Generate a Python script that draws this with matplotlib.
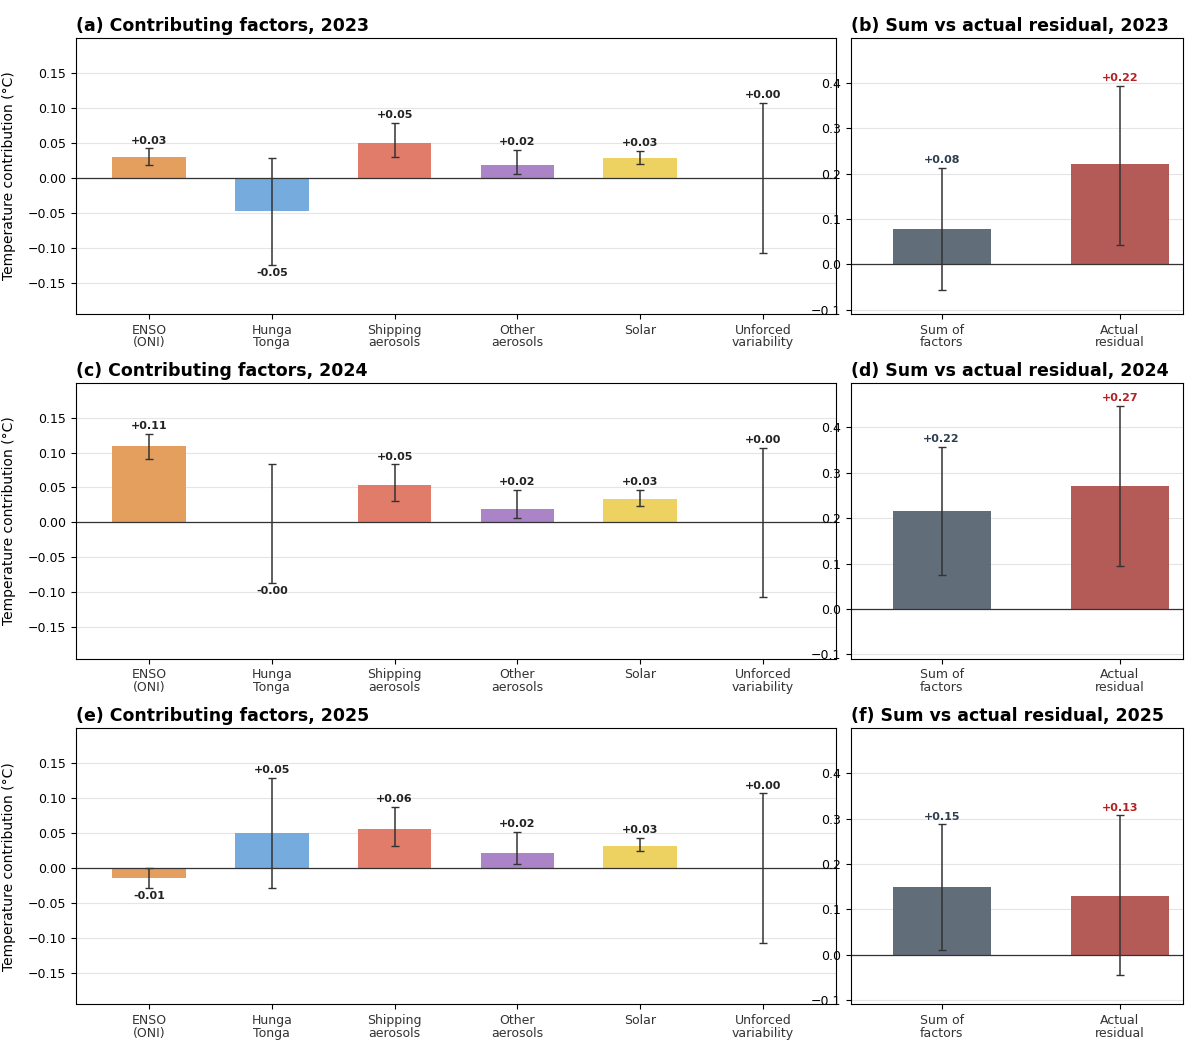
import matplotlib
matplotlib.use("Agg")
import matplotlib.pyplot as plt
import numpy as np

YEARS = [2023, 2024, 2025]
FACTORS = ["ENSO\n(ONI)", "Hunga\nTonga", "Shipping\naerosols", "Other\naerosols", "Solar", "Unforced\nvariability"]
FACTOR_COLOURS = ["#E39A55", "#6FA8DC", "#E07563", "#A77DC4", "#EDD05A", "#888888"]

# contribution, lower and upper error bound (deg C)
FACT_VAL = {
    2023: [0.030, -0.048, 0.050, 0.018, 0.028, 0.0],
    2024: [0.109, -0.001, 0.053, 0.019, 0.033, 0.0],
    2025: [-0.014, 0.050, 0.056, 0.021, 0.032, 0.0],
}
FACT_LO = {
    2023: [0.018, -0.125, 0.029, 0.005, 0.020, -0.107],
    2024: [0.091, -0.087, 0.030, 0.006, 0.024, -0.107],
    2025: [-0.028, -0.029, 0.032, 0.006, 0.025, -0.107],
}
FACT_HI = {
    2023: [0.042, 0.028, 0.078, 0.040, 0.038, 0.107],
    2024: [0.127, 0.083, 0.083, 0.047, 0.046, 0.107],
    2025: [0.000, 0.129, 0.088, 0.052, 0.043, 0.107],
}
SUM_LABELS = ["Sum of\nfactors", "Actual\nresidual"]
SUM_COLOURS = ["#5A6573", "#B0524F"]
SUM_TEXT = ["#2C3E50", "#B22222"]
SUM_VAL = {2023: [0.078, 0.220], 2024: [0.216, 0.270], 2025: [0.148, 0.130]}
SUM_LO = {2023: [-0.057, 0.042], 2024: [0.074, 0.094], 2025: [0.011, -0.046]}
SUM_HI = {2023: [0.213, 0.393], 2024: [0.357, 0.447], 2025: [0.287, 0.307]}

fig = plt.figure(figsize=(12, 10.54), dpi=100)
bottoms = [0.702, 0.375, 0.047]
letters = [("a", "b"), ("c", "d"), ("e", "f")]


def draw(ax, labels, vals, lo, hi, colours, txtcols, ylim, off, width):
    x = np.arange(len(labels))
    vals = np.array(vals)
    err = np.vstack([vals - np.array(lo), np.array(hi) - vals])
    ax.bar(x, vals, width=width, color=colours, alpha=0.95, zorder=2)
    ax.errorbar(x, vals, yerr=err, fmt="none", ecolor="#333333", elinewidth=1.1,
                capsize=3, zorder=3)
    ax.axhline(0, color="#333333", lw=0.9, zorder=2)
    for i, v in enumerate(vals):
        if v >= 0 or (v > -0.005 and len(labels) > 2 and i != 1):
            ax.text(x[i], hi[i] + off, f"+{abs(v):.2f}", ha="center", va="bottom",
                    fontsize=8, fontweight="bold", color=txtcols[i])
        else:
            ax.text(x[i], lo[i] - off, f"-{abs(v):.2f}", ha="center", va="top",
                    fontsize=8, fontweight="bold", color=txtcols[i])
    ax.set_xticks(x)
    ax.set_xticklabels(labels, fontsize=9, linespacing=0.95, color="#333333")
    ax.set_ylim(*ylim)
    ax.grid(axis="y", color="#e5e5e5", lw=0.8, zorder=0)
    ax.tick_params(labelsize=9)


for r, year in enumerate(YEARS):
    axl = fig.add_axes([0.063, bottoms[r], 0.634, 0.262])
    draw(axl, FACTORS, FACT_VAL[year], FACT_LO[year], FACT_HI[year], FACTOR_COLOURS,
         ["#222222"] * 6, (-0.195, 0.2), 0.004, 0.6)
    axl.set_xlim(-0.6, 5.6)
    axl.set_yticks([-0.15, -0.10, -0.05, 0.0, 0.05, 0.10, 0.15])
    axl.set_ylabel("Temperature contribution (°C)", fontsize=10, labelpad=8)
    axl.set_title(f"({letters[r][0]}) Contributing factors, {year}", loc="left",
                  fontsize=12.5, fontweight="bold", pad=5)

    axr = fig.add_axes([0.709, bottoms[r], 0.277, 0.262])
    draw(axr, SUM_LABELS, SUM_VAL[year], SUM_LO[year], SUM_HI[year], SUM_COLOURS,
         SUM_TEXT, (-0.11, 0.499), 0.006, 0.55)
    axr.set_xlim(-0.51, 1.356)
    axr.set_yticks([-0.1, 0.0, 0.1, 0.2, 0.3, 0.4])
    axr.set_title(f"({letters[r][1]}) Sum vs actual residual, {year}", loc="left",
                  fontsize=12.5, fontweight="bold", pad=5)

fig.savefig("out.png", dpi=100)
